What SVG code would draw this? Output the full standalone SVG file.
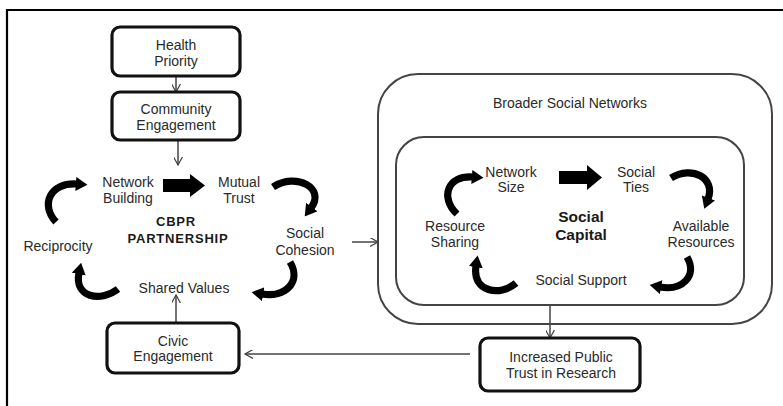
<svg xmlns="http://www.w3.org/2000/svg" width="783" height="406" viewBox="0 0 783 406">
<defs>
<style>
.t{font-family:"Liberation Sans",Arial,sans-serif;font-size:14px;fill:#2a2a2a;text-anchor:middle}
.b{font-family:"Liberation Sans",Arial,sans-serif;font-weight:bold;fill:#1a1a1a;text-anchor:middle}
.box{fill:#fff;stroke:#111;stroke-width:3.2}
.grp{fill:#fff;stroke:#444;stroke-width:2}
.con{fill:none;stroke:#444;stroke-width:1.5}
.cur{fill:none;stroke:#000;stroke-width:7.2}
</style>
<marker id="v" viewBox="0 0 10 10" refX="9" refY="5" markerWidth="9" markerHeight="9" markerUnits="userSpaceOnUse" orient="auto"><path d="M0,0 L9,5 L0,10" fill="none" stroke="#444" stroke-width="1.4"/></marker>
<marker id="fat" viewBox="0 0 10 12" refX="1" refY="6" markerWidth="12" markerHeight="14" markerUnits="userSpaceOnUse" orient="auto"><path d="M0,0 L10,6 L0,12 z" fill="#000"/></marker>
</defs>
<rect width="783" height="406" fill="#fff"/>
<path d="M7 406 V10 H783" fill="none" stroke="#000" stroke-width="2.2"/>

<g id="broader">
<rect class="grp" x="378" y="74" width="394" height="250" rx="40"/>
<text class="t" x="570" y="108">Broader Social Networks</text>
</g>
<g id="socialcapital">
<rect class="grp" x="396" y="137" width="348" height="168" rx="28"/>
<text class="b" x="581" y="222" font-size="15.5">Social</text>
<text class="b" x="581" y="240" font-size="15.5">Capital</text>
</g>

<g id="connectors">
<line class="con" x1="176" y1="76" x2="176" y2="92" marker-end="url(#v)"/>
<line class="con" x1="178" y1="140" x2="178" y2="165" marker-end="url(#v)"/>
<line class="con" x1="176" y1="323" x2="176" y2="295" marker-end="url(#v)"/>
<line class="con" x1="352" y1="242" x2="378" y2="242" marker-end="url(#v)"/>
<line class="con" x1="550" y1="305" x2="550" y2="338" marker-end="url(#v)"/>
<line class="con" x1="470" y1="354" x2="245" y2="354" marker-end="url(#v)"/>
<path d="M163 179 H190 V174 L205 185.5 L190 197 V192 H163 Z" fill="#000"/>
<path d="M559 171 H587 V165 L602 177.5 L587 190 V184 H559 Z" fill="#000"/>
<path class="cur" d="M56 222 C40 205,50 182,77 184" marker-end="url(#fat)"/>
<path class="cur" d="M273 187 C296 172,326 188,311 208" marker-end="url(#fat)"/>
<path class="cur" d="M290 262 C302 282,285 298,262 294" marker-end="url(#fat)"/>
<path class="cur" d="M118 289 C100 303,74 297,79 273" marker-end="url(#fat)"/>
<path class="cur" d="M457 214 C440 198,447 175,473 177" marker-end="url(#fat)"/>
<path class="cur" d="M671 178 C692 165,716 178,708 199" marker-end="url(#fat)"/>
<path class="cur" d="M516 283 C500 297,472 292,476 266" marker-end="url(#fat)"/>
<path class="cur" d="M687 257 C698 276,682 291,660 287" marker-end="url(#fat)"/>
</g>

<g id="health">
<rect class="box" x="112" y="27" width="128" height="49" rx="8"/>
<text class="t" x="176" y="49.5">Health</text>
<text class="t" x="176" y="65.5">Priority</text>
</g>
<g id="community">
<rect class="box" x="112" y="92" width="128" height="48" rx="8"/>
<text class="t" x="176" y="114">Community</text>
<text class="t" x="176" y="130">Engagement</text>
</g>
<g id="network-building">
<text class="t" x="128" y="187">Network</text>
<text class="t" x="128" y="203">Building</text>
</g>
<g id="mutual-trust">
<text class="t" x="239" y="187">Mutual</text>
<text class="t" x="239" y="203">Trust</text>
</g>
<g id="cbpr">
<text class="b" x="176" y="226" font-size="13" letter-spacing="0.8">CBPR</text>
<text class="b" x="178" y="243" font-size="13" letter-spacing="0.8">PARTNERSHIP</text>
</g>
<g id="reciprocity"><text class="t" x="58" y="251">Reciprocity</text></g>
<g id="social-cohesion">
<text class="t" x="305" y="238">Social</text>
<text class="t" x="305" y="255">Cohesion</text>
</g>
<g id="shared-values"><text class="t" x="184" y="293">Shared Values</text></g>
<g id="civic">
<rect class="box" x="107" y="323" width="132" height="50" rx="8"/>
<text class="t" x="173" y="346">Civic</text>
<text class="t" x="173" y="361">Engagement</text>
</g>
<g id="network-size">
<text class="t" x="511" y="177">Network</text>
<text class="t" x="511" y="192">Size</text>
</g>
<g id="social-ties">
<text class="t" x="636" y="177">Social</text>
<text class="t" x="636" y="192">Ties</text>
</g>
<g id="resource-sharing">
<text class="t" x="455" y="231">Resource</text>
<text class="t" x="455" y="247">Sharing</text>
</g>
<g id="available-resources">
<text class="t" x="701" y="231">Available</text>
<text class="t" x="701" y="247">Resources</text>
</g>
<g id="social-support"><text class="t" x="581" y="285">Social Support</text></g>
<g id="public-trust">
<rect class="box" x="480" y="338" width="160" height="53" rx="8"/>
<text class="t" x="561" y="362">Increased Public</text>
<text class="t" x="561" y="378">Trust in Research</text>
</g>
</svg>
